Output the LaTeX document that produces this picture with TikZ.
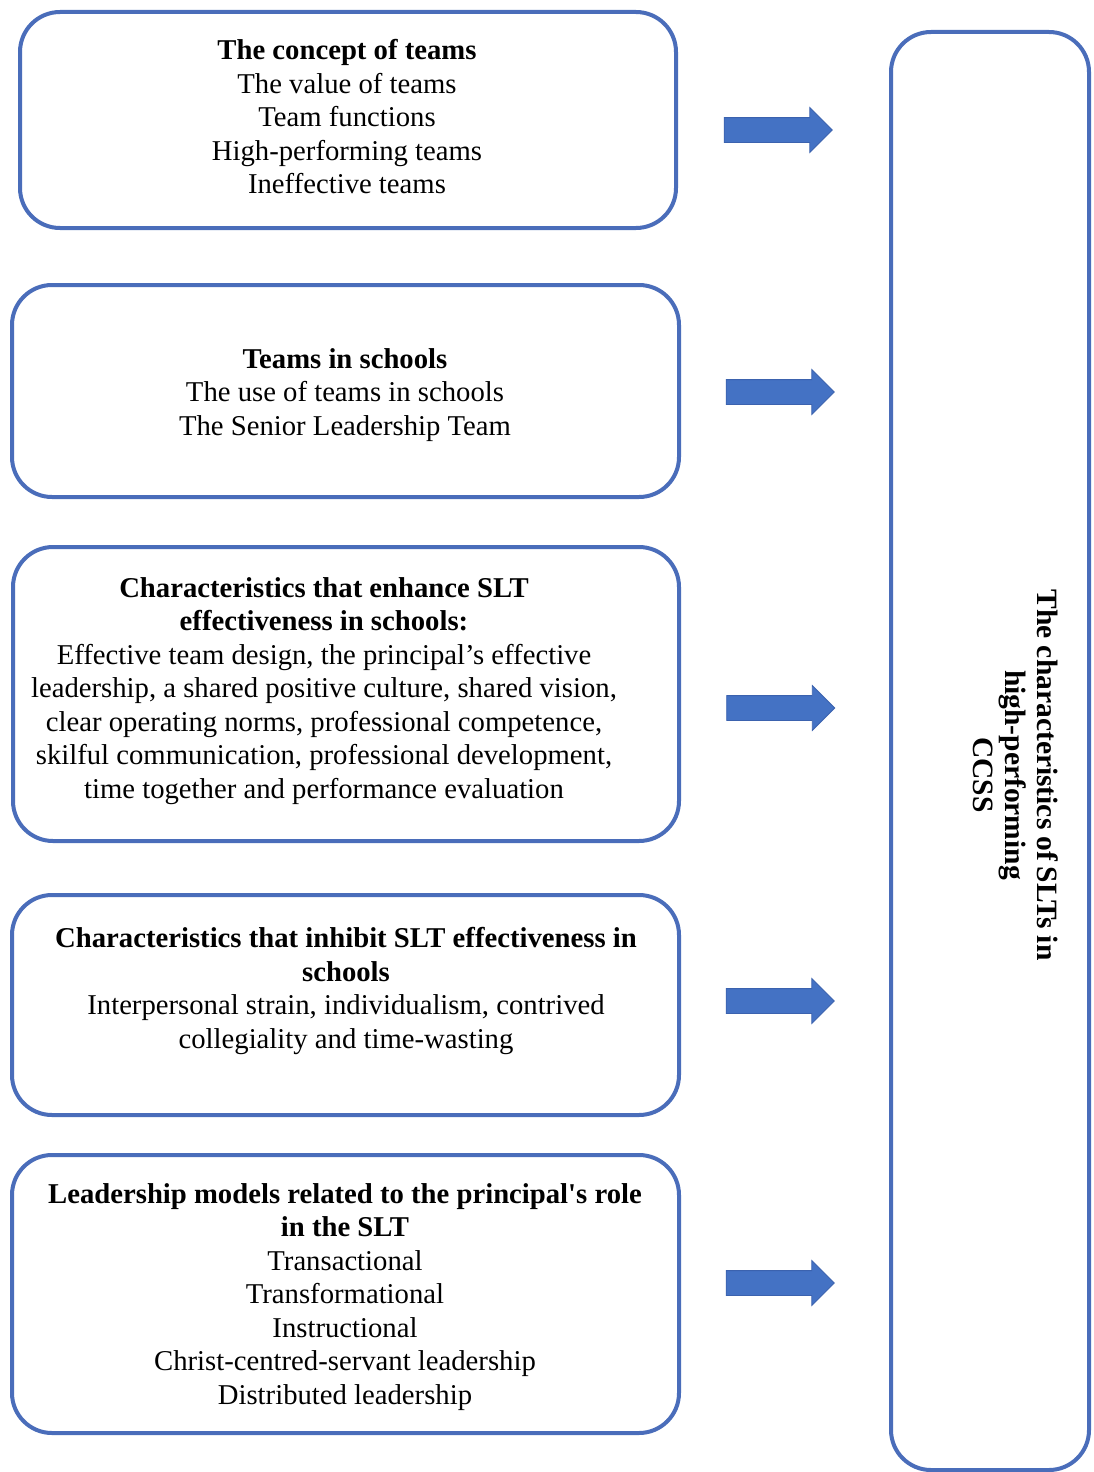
\documentclass[tikz,border=0pt]{standalone}
\usepackage{fontspec}
\setmainfont{Liberation Serif}
\usetikzlibrary{shapes.arrows}
\definecolor{frame}{HTML}{4A6DBA}
\definecolor{arrowfill}{HTML}{4472C4}
\definecolor{arrowedge}{HTML}{3B62AE}
% straight apostrophe, set as a glyph so the TeX ligature mapping leaves it alone
\newcommand{\straightquote}{\XeTeXglyph\XeTeXcharglyph"0027\relax}
\tikzset{
  topicbox/.style={draw=frame, line width=4pt, rounded corners=40pt, fill=white, inner sep=0pt},
  topictext/.style={align=center, inner sep=0pt, font=\fontsize{28.7}{33.5}\selectfont},
  blockarrow/.style={single arrow, fill=arrowfill, draw=arrowedge, line width=0.8pt,
    minimum height=108pt, minimum width=44pt, inner xsep=0pt, inner ysep=12pt,
    single arrow head extend=10pt, anchor=center}
}
\begin{document}
\begin{tikzpicture}[x=1pt, y=-1pt]
\useasboundingbox (0,0) rectangle (1093,1472);

% topic boxes on the left
\node[topicbox, minimum width=656pt, minimum height=216pt] (b1) at (348,120) {};
\node[topicbox, minimum width=667pt, minimum height=212pt] (b2) at (345.5,391) {};
\node[topicbox, minimum width=666pt, minimum height=294pt] (b3) at (346,694) {};
\node[topicbox, minimum width=667pt, minimum height=220pt] (b4) at (345.5,1005) {};
\node[topicbox, minimum width=667pt, minimum height=278pt] (b5) at (345.5,1294) {};

% outcome box on the right
\node[topicbox, minimum width=198pt, minimum height=1438pt] (out) at (990,751) {};

% box texts
\node[topictext] (t1) at (347,117) {\textbf{The concept of teams}\\The value of teams\\Team functions\\High-performing teams\\Ineffective teams};
\node[topictext] (t2) at (345,395) {\textbf{Teams in schools}\\The use of teams in schools\\The Senior Leadership Team};
\node[topictext] (t3) at (324,691) {\textbf{Characteristics that enhance SLT}\\\textbf{effectiveness in schools:}\\Effective team design, the principal’s effective\\leadership, a shared positive culture, shared vision,\\clear operating norms, professional competence,\\skilful communication, professional development,\\time together and performance evaluation};
\node[topictext] (t4) at (346,991) {\textbf{Characteristics that inhibit SLT effectiveness in}\\\textbf{schools}\\Interpersonal strain, individualism, contrived\\collegiality and time-wasting};
\node[topictext] (t5) at (345,1297) {\textbf{Leadership models related to the principal\straightquote s role}\\\textbf{in the SLT}\\Transactional\\Transformational\\Instructional\\Christ-centred-servant leadership\\Distributed leadership};

% rotated outcome label
\node[topictext, rotate=-90, font=\bfseries\fontsize{29.5}{32}\selectfont] (tout) at (1016,775) {The characteristics of\kern-2pt\ SLTs in\\high-performing\\CCSS};

% block arrows pointing to the outcome box
\node[blockarrow] (a1) at (772,130) {};
\node[blockarrow] (a2) at (774,392) {};
\node[blockarrow] (a3) at (774.5,708) {};
\node[blockarrow] (a4) at (774,1001) {};
\node[blockarrow] (a5) at (774,1283) {};
\end{tikzpicture}
\end{document}
